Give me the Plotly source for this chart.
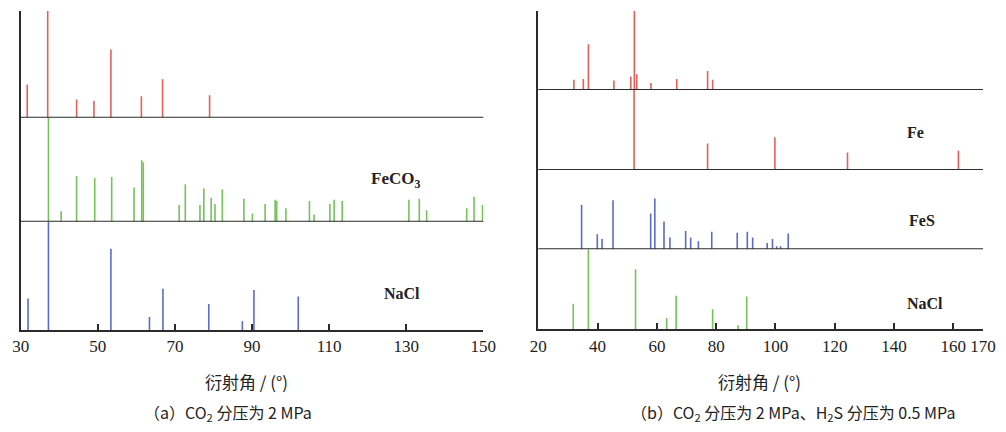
import plotly.graph_objects as go

W, H = 1006, 432
OFF = 8  # default page body margin
FW, FH = W - OFF, H - OFF

# ---------------- data ----------------
# Panel (a): CO2 partial pressure 2 MPa
a_top_pos = [31.7, 37.0, 44.5, 49.0, 53.4, 61.3, 66.8, 79.0]
a_top_int = [0.31, 1.00, 0.17, 0.16, 0.64, 0.20, 0.36, 0.21]

a_feco3_pos = [37.2, 40.5, 44.5, 49.2, 53.6, 59.4, 61.4, 61.8, 71.1, 72.7, 76.5, 77.5,
               79.4, 80.4, 82.3, 87.9, 90.1, 93.4, 96.0, 96.4, 98.8, 104.9, 106.1,
               110.2, 111.3, 113.4, 130.7, 133.4, 135.3, 145.7, 147.6, 149.8]
a_feco3_int = [1.00, 0.10, 0.44, 0.42, 0.43, 0.33, 0.59, 0.57, 0.16, 0.36, 0.16, 0.32,
               0.23, 0.17, 0.31, 0.22, 0.08, 0.17, 0.21, 0.20, 0.13, 0.20, 0.07,
               0.17, 0.21, 0.20, 0.21, 0.22, 0.11, 0.13, 0.24, 0.16]

a_nacl_pos = [31.9, 37.2, 53.4, 63.4, 66.9, 78.8, 87.5, 90.5, 102.0]
a_nacl_int = [0.29, 1.00, 0.75, 0.12, 0.38, 0.24, 0.08, 0.37, 0.31]

# Panel (b): CO2 2 MPa, H2S 0.5 MPa
b_top_pos = [32.0, 35.2, 36.9, 45.5, 51.2, 52.4, 53.2, 58.0, 66.7, 77.1, 78.8]
b_top_int = [0.13, 0.14, 0.58, 0.12, 0.17, 1.00, 0.20, 0.09, 0.14, 0.24, 0.13]

b_fe_pos = [52.3, 77.1, 99.8, 124.3, 161.7]
b_fe_int = [1.00, 0.33, 0.41, 0.22, 0.24]

b_fes_pos = [34.6, 39.9, 41.5, 45.2, 57.9, 59.3, 62.4, 64.4, 69.7, 71.4, 74.0, 78.5,
             87.1, 90.5, 92.3, 97.2, 99.0, 100.4, 101.7, 104.3]
b_fes_int = [0.56, 0.19, 0.13, 0.62, 0.45, 0.64, 0.35, 0.15, 0.23, 0.15, 0.10, 0.22,
             0.21, 0.22, 0.15, 0.08, 0.13, 0.04, 0.04, 0.20]

b_nacl_pos = [31.8, 36.9, 52.8, 63.3, 66.5, 78.8, 87.4, 90.3]
b_nacl_int = [0.32, 1.00, 0.75, 0.14, 0.42, 0.25, 0.05, 0.41]

a_ticks = [30, 50, 70, 90, 110, 130, 150]
b_ticks = [20, 40, 60, 80, 100, 120, 140, 160, 170]

x_title = "衍射角 / (°)"
cap_a = "（a）CO<sub>2</sub> 分压为 2 MPa"
cap_b = "（b）CO<sub>2</sub> 分压为 2 MPa、H<sub>2</sub>S 分压为 0.5 MPa"

RED = "#e0625a"
GREEN = "#74c25a"
BLUE = "#5c6cc2"
AX = "#2b2b2b"


def px(x):
    return (x - OFF) / FW


def py(y):
    return 1 - (y - OFF) / FH


def sticks(pos, inten):
    xs, ys = [], []
    for p, v in zip(pos, inten):
        xs += [p, p, None]
        ys += [0, v, None]
    return xs, ys


fig = go.Figure()

bands = [
    (a_top_pos, a_top_int, RED, "x", "y", 11, 117.7),
    (a_feco3_pos, a_feco3_int, GREEN, "x", "y2", 117.7, 221.7),
    (a_nacl_pos, a_nacl_int, BLUE, "x", "y3", 221.7, 330),
    (b_top_pos, b_top_int, RED, "x2", "y4", 11, 90),
    (b_fe_pos, b_fe_int, RED, "x2", "y5", 90, 170),
    (b_fes_pos, b_fes_int, BLUE, "x2", "y6", 170, 249.3),
    (b_nacl_pos, b_nacl_int, GREEN, "x2", "y7", 249.3, 329.3),
]

layout = dict(
    width=FW, height=FH,
    margin=dict(l=0, r=0, t=0, b=0),
    paper_bgcolor="white", plot_bgcolor="white",
    showlegend=False,
    font=dict(family="Liberation Serif", color="#222"),
)

shapes = []
for i, (pos, inten, col, xa, ya, top, bot) in enumerate(bands):
    xs, ys = sticks(pos, inten)
    fig.add_trace(go.Scatter(x=xs, y=ys, mode="lines", xaxis=xa, yaxis=ya,
                             line=dict(color=col, width=1.6), hoverinfo="skip"))
    key = "yaxis" if i == 0 else f"yaxis{i + 1}"
    layout[key] = dict(domain=[py(bot), py(top)], range=[0, 1], anchor=xa,
                       showline=True, linecolor=AX, linewidth=2,
                       showticklabels=False, ticks="", showgrid=False,
                       zeroline=False, fixedrange=True)
    if ya not in ("y3", "y7"):
        shapes.append(dict(type="line", xref=f"{xa} domain", yref=ya,
                           x0=0, x1=1, y0=0, y1=0,
                           line=dict(color=AX, width=2)))

tickfont = dict(family="Liberation Serif", size=17, color="#222")
common_x = dict(ticks="inside", ticklen=6, tickwidth=1.5, tickcolor=AX,
                showline=True, linecolor=AX, linewidth=2,
                showgrid=False, zeroline=False, tickfont=tickfont,
                automargin=False, fixedrange=True)
layout["xaxis"] = dict(domain=[px(20.7), px(483.3)], range=[30, 150], anchor="y3",
                       tickvals=a_ticks, ticktext=[str(t) for t in a_ticks], **common_x)
layout["xaxis2"] = dict(domain=[px(538.3), px(983)], range=[20, 170], anchor="y7",
                        tickvals=b_ticks, ticktext=[str(t) for t in b_ticks], **common_x)
layout["shapes"] = shapes

cjk = "Noto Sans CJK SC"
lab = dict(family="Liberation Serif", size=16, color="#222")


def ann(text, x, y, font):
    return dict(text=text, x=px(x), y=py(y), xref="paper", yref="paper",
                showarrow=False, xanchor="center", yanchor="middle", font=font)


layout["annotations"] = [
    ann("<b>FeCO<sub>3</sub></b>", 395, 180, dict(family="Liberation Serif", size=17, color="#222")),
    ann("<b>NaCl</b>", 402, 293, lab),
    ann("<b>Fe</b>", 915, 133, lab),
    ann("<b>FeS</b>", 922, 220, lab),
    ann("<b>NaCl</b>", 925, 303, lab),
    ann(x_title, 246, 381, dict(family=cjk, size=17, color="#222")),
    ann(x_title, 759, 381, dict(family=cjk, size=17, color="#222")),
    ann(cap_a, 228, 412, dict(family=cjk, size=16, color="#222")),
    ann(cap_b, 793, 412, dict(family=cjk, size=16, color="#222")),
]

fig.update_layout(**layout)
fig.write_html("out.html")
